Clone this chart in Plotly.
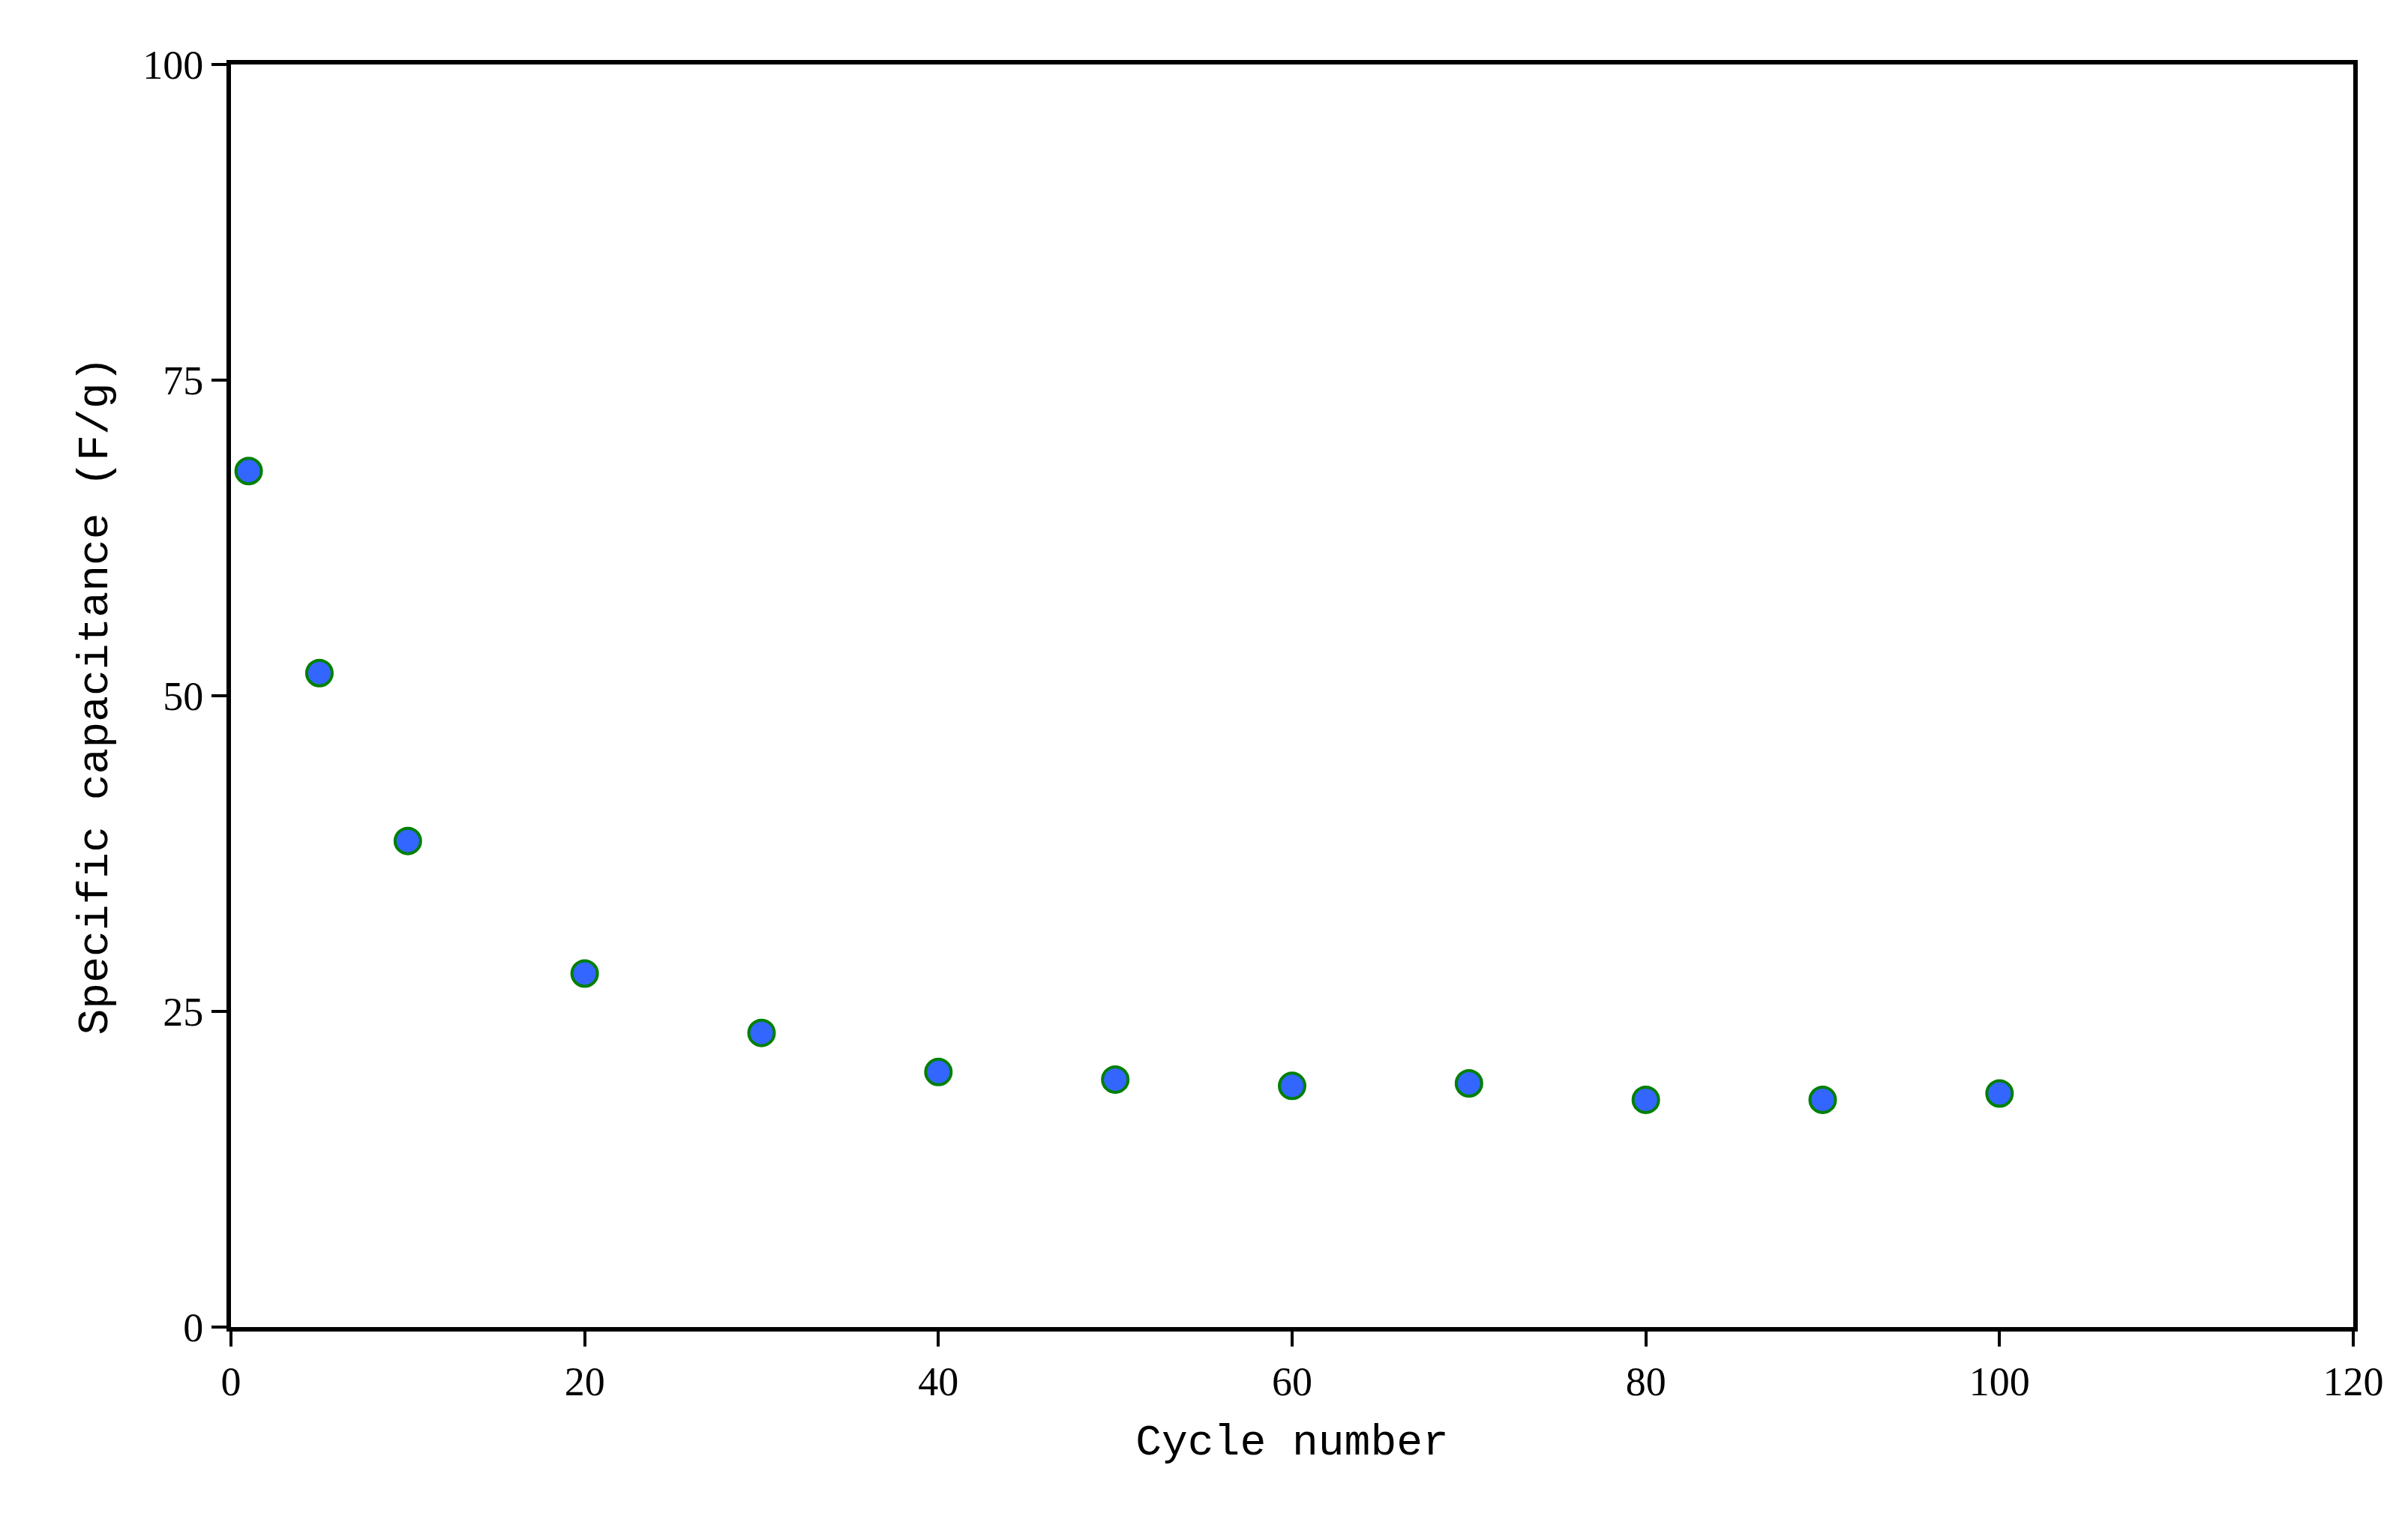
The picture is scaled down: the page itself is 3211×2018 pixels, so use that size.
import plotly.graph_objects as go

cycles = [1, 5, 10, 20, 30, 40, 50, 60, 70, 80, 90, 100]
capacitance = [67.8, 51.8, 38.5, 28.0, 23.3, 20.2, 19.6, 19.1, 19.3, 18.0, 18.0, 18.5]
x_ticks = [0, 20, 40, 60, 80, 100, 120]
y_ticks = [0, 25, 50, 75, 100]

fig = go.Figure(go.Scatter(
    x=cycles, y=capacitance, mode="markers",
    marker=dict(size=34, color="#3366FF", line=dict(color="#008000", width=4)),
))
axis_common = dict(showline=True, linewidth=6, linecolor="black", mirror=True,
                   ticks="outside", ticklen=20, tickwidth=4, tickcolor="black",
                   showgrid=False, zeroline=False,
                   tickfont=dict(family="Liberation Serif", size=54, color="black"))
fig.update_xaxes(range=[0, 120], tickvals=x_ticks, **axis_common,
                 title=dict(text="Cycle number", font=dict(family="Liberation Mono", size=58, color="black"), standoff=30))
fig.update_yaxes(range=[0, 100], tickvals=y_ticks, **axis_common,
                 title=dict(text="Specific capacitance (F/g)", font=dict(family="Liberation Mono", size=58, color="black"), standoff=30))
fig.update_layout(width=3211, height=2018, plot_bgcolor="white", paper_bgcolor="white",
                  margin=dict(l=300, r=81, t=78, b=256), showlegend=False)
fig.write_html("out.html")
